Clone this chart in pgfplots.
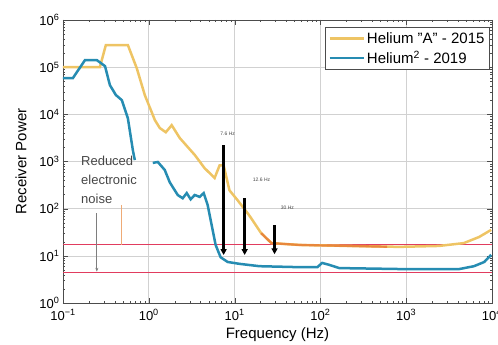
\documentclass[border=0pt]{standalone}
\usepackage{fontspec}
\setmainfont{Liberation Sans}
\usepackage{pgfplots}
\pgfplotsset{compat=1.18}
\usetikzlibrary{arrows.meta}
\definecolor{heA}{RGB}{238,196,100}
\definecolor{heAo}{RGB}{232,135,60}
\definecolor{he2}{RGB}{38,140,178}
\definecolor{redl}{RGB}{225,60,95}
\definecolor{annot}{RGB}{70,70,70}
\begin{document}
\begin{tikzpicture}
\begin{loglogaxis}[
  scale only axis, width=429bp, height=283bp,
  xmin=0.1, xmax=10000, ymin=1, ymax=1000000,
  xtick={0.1,1,10,100,1000,10000},
  xticklabels={10\textsuperscript{−1},10\textsuperscript{0},10\textsuperscript{1},10\textsuperscript{2},10\textsuperscript{3},10\textsuperscript{4}},
  ytick={1,10,100,1000,10000,100000,1000000},
  yticklabels={10\textsuperscript{0},10\textsuperscript{1},10\textsuperscript{2},10\textsuperscript{3},10\textsuperscript{4},10\textsuperscript{5},10\textsuperscript{6}},
  grid=major, major grid style={black!18, line width=0.6bp},
  axis line style={black!70, line width=0.8bp},
  tick style={black!70},
  major tick length=5bp, minor tick length=2.5bp,
  tick align=inside,
  font=\fontsize{13bp}{15bp}\selectfont,
  xticklabel style={yshift=-3bp},
  xlabel={Frequency (Hz)}, ylabel={Receiver Power},
  label style={font=\fontsize{15bp}{17bp}\selectfont},
  ylabel style={yshift=6bp},
  legend style={at={(rel axis cs:0.995,0.975)}, anchor=north east,
     draw=black!70, line width=0.8bp, font=\fontsize{15bp}{17bp}\selectfont,
     row sep=2bp, inner sep=3bp},
  legend cell align=left,
  legend image code/.code={\draw[#1, line width=2.5bp] (0bp,0bp) -- (34bp,0bp);},
  unbounded coords=jump,
]
% reference levels
\addplot[draw=redl, line width=1.1bp, forget plot] coordinates {(0.1,17.3) (10000,17.3)};
\addplot[draw=redl, line width=1.1bp, forget plot] coordinates {(0.1,4.5) (10000,4.5)};
% annotation lines
\addplot[draw=annot!70, line width=0.8bp, forget plot, -{Stealth[length=4bp,width=3bp]}] coordinates {(0.248,80) (0.248,4.6)};
\addplot[draw=heAo!70, line width=0.8bp, forget plot] coordinates {(0.485,120) (0.485,17)};
% Helium A 2015
\addplot[heA, line width=2.5bp] coordinates {
(0.1,100000) (0.269,100000) (0.316,295000) (0.570,295000) (0.724,95000)
(0.898,25700) (1.175,7590) (1.343,5130) (1.578,4170) (1.849,5890)
(2.291,3160) (3.428,1380) (4.467,724) (5.848,447) (6.699,832) (7.447,832)
(8.71,245) (10.84,151) (14.79,72.4) (20.42,30.2) (26.9,18.6) (57.5,17.0)
(218.8,16.2) (832,15.5) (2399,16.2) (4677,18.6) (7079,25.1) (9772,35.5)};
\addlegendentry{Helium "A" - 2015}
\addplot[heAo, line width=2.2bp, forget plot] coordinates {
(20.42,30.2) (26.9,18.6) (57.5,17.0) (218.8,16.2) (600,15.6)};
% Helium^2 2019
\addplot[he2, line width=2.5bp] coordinates {
(0.1,58900) (0.1306,58900) (0.1803,141000) (0.2483,141000) (0.309,105000)
(0.352,41700) (0.413,25700) (0.485,20000) (0.570,8320) (0.652,1740) (0.687,1070)
(0.9,nan)
(1.114,933) (1.274,977) (1.535,661) (1.754,363) (2.173,195) (2.483,166)
(2.767,214) (3.076,158) (3.428,195) (3.917,178) (4.365,214) (4.853,120)
(5.408,44.7) (6.012,17.0) (6.871,9.33) (8.299,7.41) (11.43,6.76) (19.5,6.03)
(57.0,5.75) (92.3,5.75) (104.7,7.08) (125.9,6.46) (166,5.50) (832,5.25)
(4169,5.25) (6166,6.03) (8128,7.41) (9772,10.5)};
\addlegendentry{Helium\textsuperscript{2} - 2019}
% arrows
\draw[black, line width=2.5bp, -{Triangle[length=6bp,width=6bp]}] (axis cs:7.45,2230) -- (axis cs:7.45,10.4);
\draw[black, line width=2.5bp, -{Triangle[length=6bp,width=6bp]}] (axis cs:13.1,167) -- (axis cs:13.1,10.4);
\draw[black, line width=2.5bp, -{Triangle[length=6bp,width=6bp]}] (axis cs:29.2,45) -- (axis cs:29.2,10.8);
\node[font=\fontsize{5bp}{6bp}\selectfont, text=annot] at (axis cs:8.3,3800) {7.6 Hz};
\node[font=\fontsize{5bp}{6bp}\selectfont, text=annot] at (axis cs:20.6,405) {12.6 Hz};
\node[font=\fontsize{5bp}{6bp}\selectfont, text=annot] at (axis cs:41.3,102) {30 Hz};
\node[anchor=north west, align=left, text=annot, font=\fontsize{13bp}{19bp}\selectfont, inner sep=0pt] at (axis cs:0.162,1300) {Reduced\\electronic\\noise};
\end{loglogaxis}
\pgfresetboundingbox
\path[use as bounding box] ([xshift=-63bp,yshift=-42bp]current axis.south west) rectangle ++(498bp,345bp);
\end{tikzpicture}
\end{document}
